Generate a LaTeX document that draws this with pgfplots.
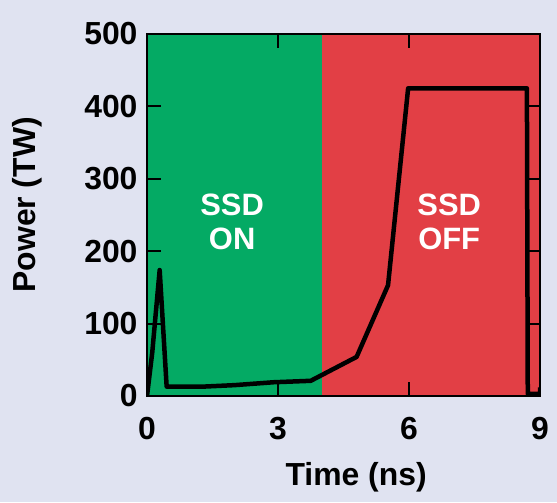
\documentclass[border=0pt]{standalone}
\usepackage{pgfplots}
\pgfplotsset{compat=1.18}
\usepackage{fontspec}
\setmainfont{Liberation Sans}
\usetikzlibrary{backgrounds}
\definecolor{bgc}{RGB}{224,227,241}
\definecolor{sgreen}{RGB}{4,170,100}
\definecolor{sred}{RGB}{226,63,69}
\begin{document}
\begin{tikzpicture}
\begin{axis}[
  scale only axis, width=393bp, height=362bp,
  xmin=0, xmax=9, ymin=0, ymax=500,
  xtick={0,3,6,9}, ytick={0,100,200,300,400,500},
  tick align=inside, major tick length=14bp,
  every tick/.style={black, line width=2bp},
  axis line style={line width=2.2bp, black},
  axis on top,
  /pgf/number format/assume math mode=true,
  ticklabel style={font=\bfseries\fontsize{32}{32}\selectfont},
  yticklabel style={xshift=-6bp},
  xticklabel style={yshift=-18bp},
  xlabel={Time (ns)}, ylabel={Power (TW)},
  label style={font=\bfseries\fontsize{32}{32}\selectfont},
  xlabel style={at={(axis description cs:0.532,-0.246)}, anchor=base},
  ylabel style={at={(axis description cs:-0.283,0.528)}, anchor=base},
]
\addplot[fill=sgreen, draw=none] coordinates {(0,0) (4,0) (4,500) (0,500)} -- cycle;
\addplot[fill=sred, draw=none] coordinates {(4,0) (9,0) (9,500) (4,500)} -- cycle;
\addplot[black, line width=4.5bp, line join=round] coordinates {
(0,0) (0.12,60) (0.29,174) (0.45,13) (1.3,13) (2,15) (2.9,19) (3.75,21)
(4.8,54) (5.52,153) (5.98,425) (8.7,425) (8.72,3) (9,3) (9,12)};
\node[white, align=center, font=\bfseries\fontsize{31}{34}\selectfont] at (axis cs:1.95,240) {SSD\\ON};
\node[white, align=center, font=\bfseries\fontsize{31}{34}\selectfont] at (axis cs:6.92,240) {SSD\\OFF};
\end{axis}
\pgfresetboundingbox
\path ([shift={(-147bp,-106bp)}]current axis.south west) rectangle ([shift={(17bp,34bp)}]current axis.north east);
\begin{scope}[on background layer]
\fill[bgc] ([shift={(-147bp,-106bp)}]current axis.south west) rectangle ([shift={(17bp,34bp)}]current axis.north east);
\end{scope}
\end{tikzpicture}
\end{document}
